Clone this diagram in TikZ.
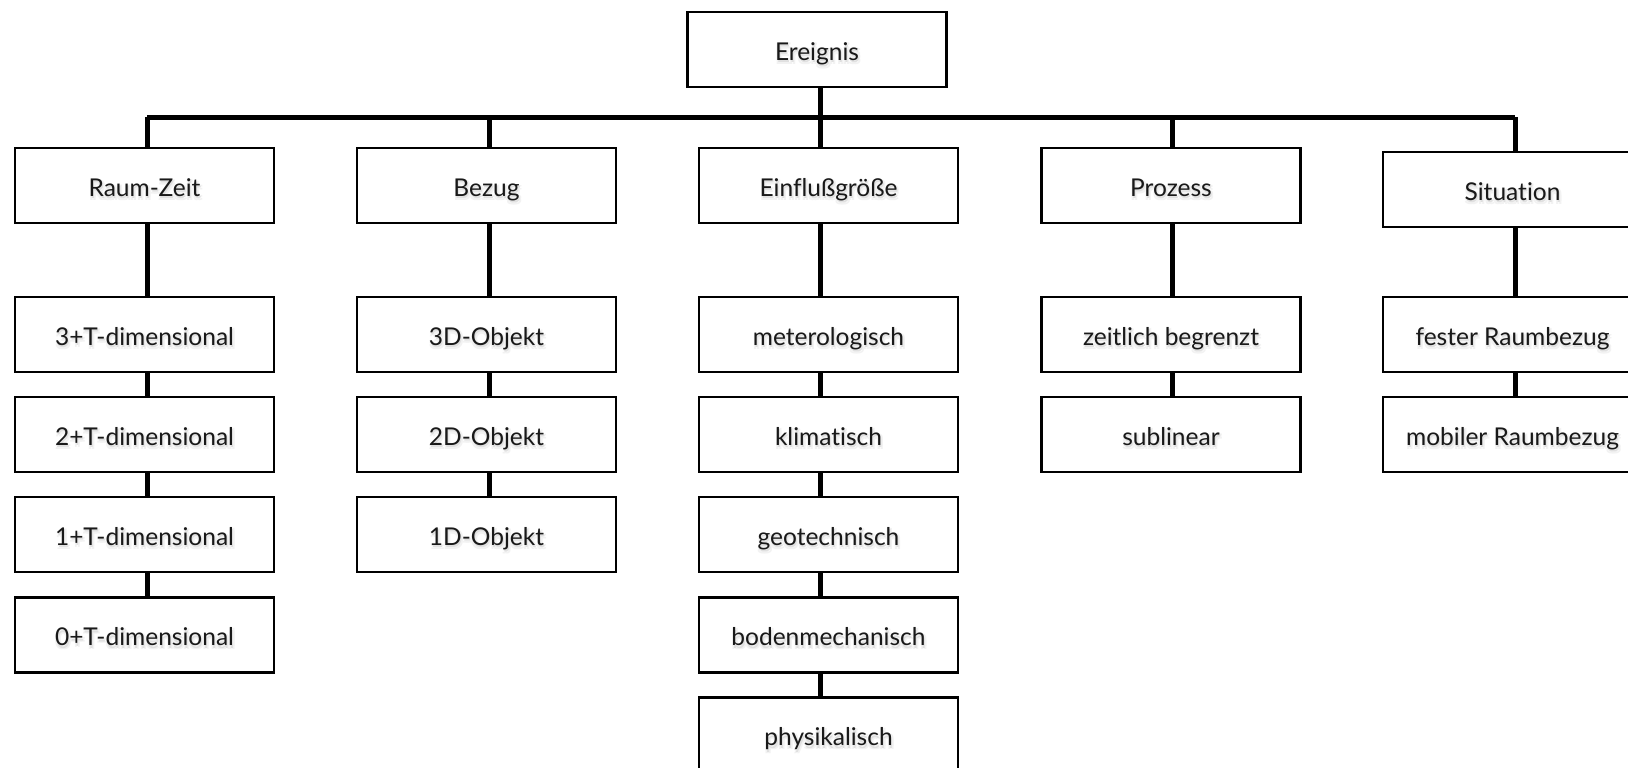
\documentclass[tikz,border=0pt]{standalone}
\usepackage{fontspec}
\setmainfont{Lato}[Ligatures={NoCommon}]

% label text over a faint, soft grey drop shadow
\newcommand\shlayer[4]{\rlap{\smash{\kern#1\raisebox{#2}{\color{#3}#4}}}}
\newcommand\soft[1]{%
  \shlayer{-0.5pt}{-1pt}{black!5}{#1}\shlayer{2.5pt}{-1pt}{black!5}{#1}%
  \shlayer{-0.5pt}{-4pt}{black!5}{#1}\shlayer{2.5pt}{-4pt}{black!5}{#1}%
  \shlayer{1pt}{-2.5pt}{black!12}{#1}{\color{black!90}#1}}

\tikzset{
  box/.style={draw=black, line width=2.5pt, fill=white, minimum width=259pt,
    minimum height=75pt, inner sep=0pt,
    text height=21pt, text depth=0pt,
    font=\fontsize{24.5}{28}\selectfont},
  conn/.style={line width=5pt, line cap=butt}
}

\begin{document}
\begin{tikzpicture}[x=1pt, y=-1pt]
\useasboundingbox (0,0) rectangle (1628,768);
\clip (0,0) rectangle (1628,768);

% column axes of the connectors
\coordinate (c1) at (147,0);
\coordinate (c2) at (489,0);
\coordinate (c3) at (820,0);
\coordinate (c4) at (1172,0);
\coordinate (c5) at (1515,0);
\coordinate (barL) at (147,117);
\coordinate (barR) at (1515,117);

% root
\node[box] (ereignis) at (817,49.5) {\soft{Ereignis}};

% first level
\node[box] (raumzeit) at (144.5,185.5) {\soft{Raum-Zeit}};
\node[box] (bezug)    at (486.5,185.5) {\soft{Bezug}};
\node[box] (einfluss) at (828.5,185.5) {\soft{Einflußgröße}};
\node[box] (prozess)  at (1171,185.5)  {\soft{Prozess}};
\node[box] (situation) at (1512.5,189.5) {\soft{Situation}};

% Raum-Zeit
\node[box] (d3) at (144.5,334.5) {\soft{3+T-dimensional}};
\node[box] (d2) at (144.5,434.5) {\soft{2+T-dimensional}};
\node[box] (d1) at (144.5,534.5) {\soft{1+T-dimensional}};
\node[box] (d0) at (144.5,635)   {\soft{0+T-dimensional}};

% Bezug
\node[box] (o3) at (486.5,334.5) {\soft{3D-Objekt}};
\node[box] (o2) at (486.5,434.5) {\soft{2D-Objekt}};
\node[box] (o1) at (486.5,534.5) {\soft{1D-Objekt}};

% Einflussgroesse
\node[box] (met)  at (828.5,334.5) {\soft{meterologisch}};
\node[box] (kli)  at (828.5,434.5) {\soft{klimatisch}};
\node[box] (geo)  at (828.5,534.5) {\soft{geotechnisch}};
\node[box] (bod)  at (828.5,635)   {\soft{bodenmechanisch}};
\node[box] (phy)  at (828.5,735)   {\soft{physikalisch}};

% Prozess
\node[box] (zeit) at (1171,334.5) {\soft{zeitlich begrenzt}};
\node[box] (sub)  at (1171,434.5) {\soft{sublinear}};

% Situation
\node[box] (fest) at (1512.5,334.5) {\soft{fester Raumbezug}};
\node[box] (mob)  at (1512.5,434.5) {\soft{mobiler Raumbezug}};

% bus and drops
\draw[conn] (barL) -- (barR);
\draw[conn] (ereignis.south -| c3) -- (einfluss.north -| c3);
\draw[conn] (c1 |- barL) -- (raumzeit.north -| c1);
\draw[conn] (c2 |- barL) -- (bezug.north -| c2);
\draw[conn] (c4 |- barL) -- (prozess.north -| c4);
\draw[conn] (c5 |- barL) -- (situation.north -| c5);

% chains below each category
\draw[conn] (raumzeit.south -| c1) -- (d3.north -| c1);
\draw[conn] (d3.south -| c1) -- (d2.north -| c1);
\draw[conn] (d2.south -| c1) -- (d1.north -| c1);
\draw[conn] (d1.south -| c1) -- (d0.north -| c1);

\draw[conn] (bezug.south -| c2) -- (o3.north -| c2);
\draw[conn] (o3.south -| c2) -- (o2.north -| c2);
\draw[conn] (o2.south -| c2) -- (o1.north -| c2);

\draw[conn] (einfluss.south -| c3) -- (met.north -| c3);
\draw[conn] (met.south -| c3) -- (kli.north -| c3);
\draw[conn] (kli.south -| c3) -- (geo.north -| c3);
\draw[conn] (geo.south -| c3) -- (bod.north -| c3);
\draw[conn] (bod.south -| c3) -- (phy.north -| c3);

\draw[conn] (prozess.south -| c4) -- (zeit.north -| c4);
\draw[conn] (zeit.south -| c4) -- (sub.north -| c4);

\draw[conn] (situation.south -| c5) -- (fest.north -| c5);
\draw[conn] (fest.south -| c5) -- (mob.north -| c5);
\end{tikzpicture}
\end{document}
